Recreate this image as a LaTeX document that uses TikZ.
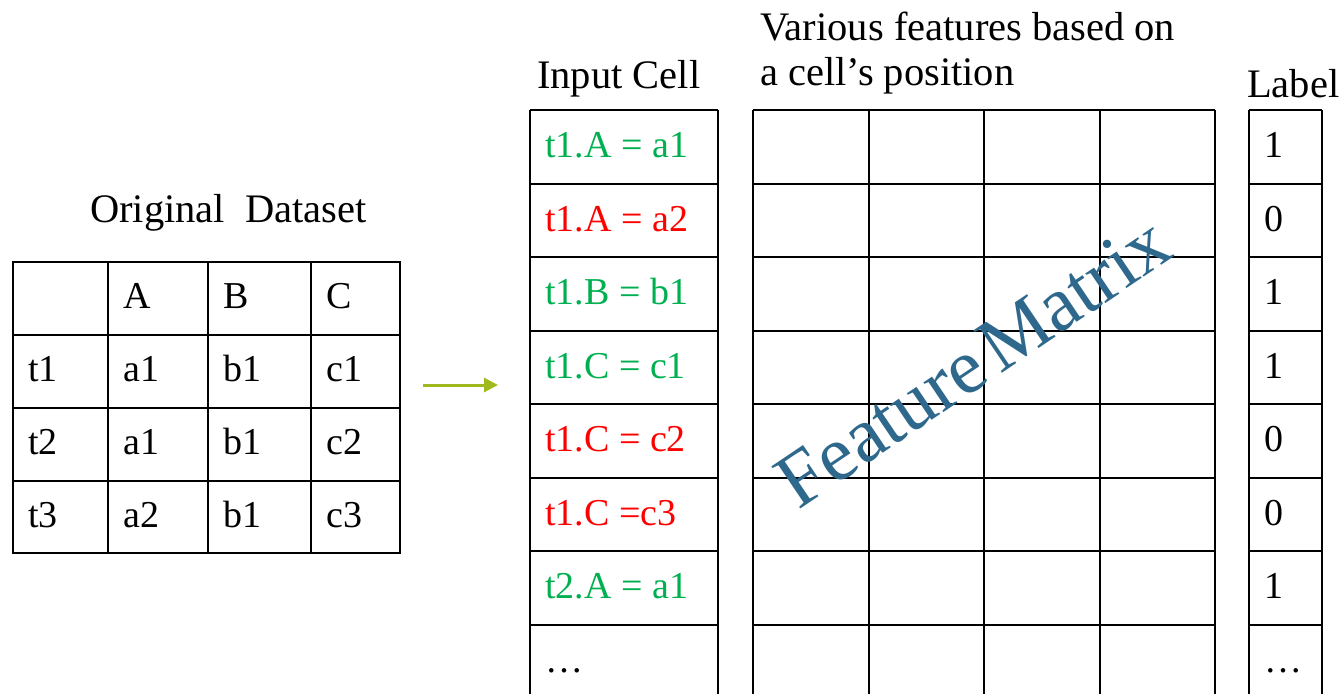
\documentclass[tikz,border=0pt]{standalone}
\usepackage{fontspec}
\setmainfont{Liberation Serif}
\usetikzlibrary{arrows.meta}
\definecolor{cgreen}{RGB}{0,176,80}
\definecolor{cred}{RGB}{255,0,0}
\definecolor{arrowc}{RGB}{160,185,30}
\definecolor{wmark}{RGB}{46,104,140}
\tikzset{
  gridline/.style={line width=2pt, black},
  celltxt/.style={anchor=base west, inner sep=0pt, font=\fontsize{38}{44}\selectfont},
  headtxt/.style={anchor=base west, inner sep=0pt, font=\fontsize{40.5}{48}\selectfont},
  flow/.style={line width=3pt, arrowc, -{Triangle[length=14pt,width=14pt]}},
  wm/.style={rotate=34, inner sep=0pt, font=\fontsize{78}{88}\selectfont}
}
\begin{document}
\begin{tikzpicture}[x=1pt,y=-1pt]
\useasboundingbox (0,0) rectangle (1341,694);

% ---------- Original dataset table ----------
\node[headtxt] (origtitle) at (90,222) {Original\ \ Dataset};
\draw[gridline] (13,262) rectangle (400,553);
\foreach \x in {108,208,311} \draw[gridline] (\x,262) -- (\x,553);
\foreach \y in {335,408,481} \draw[gridline] (13,\y) -- (400,\y);
\node[celltxt] (hA) at (123,308.5) {A};
\node[celltxt] (hB) at (223,308.5) {B};
\node[celltxt] (hC) at (326,308.5) {C};
\node[celltxt] (r1c0) at (28,381.5) {t1};
\node[celltxt] (r1c1) at (123,381.5) {a1};
\node[celltxt] (r1c2) at (223,381.5) {b1};
\node[celltxt] (r1c3) at (326,381.5) {c1};
\node[celltxt] (r2c0) at (28,454.5) {t2};
\node[celltxt] (r2c1) at (123,454.5) {a1};
\node[celltxt] (r2c2) at (223,454.5) {b1};
\node[celltxt] (r2c3) at (326,454.5) {c2};
\node[celltxt] (r3c0) at (28,527) {t3};
\node[celltxt] (r3c1) at (123,527) {a2};
\node[celltxt] (r3c2) at (223,527) {b1};
\node[celltxt] (r3c3) at (326,527) {c3};

% ---------- arrow ----------
\coordinate (arrS) at (423,385);
\coordinate (arrE) at (498,385);
\draw[flow] (arrS) -- (arrE);

% ---------- Input cell column ----------
\node[headtxt] (inputtitle) at (537,88) {Input Cell};
\draw[gridline] (530,110) -- (530,694);
\draw[gridline] (718,110) -- (718,694);
\foreach \k in {0,...,7} \draw[gridline] (530,110+73.5*\k) -- (718,110+73.5*\k);
\foreach \t/\c [count=\i from 0] in {t1.A = a1/cgreen, t1.A = a2/cred, t1.B = b1/cgreen, t1.C = c1/cgreen, t1.C = c2/cred, t1.C =c3/cred, t2.A = a1/cgreen, \dots/black}
  \node[celltxt, text=\c] (in\i) at (545,157.75+73.5*\i) {\t};

% ---------- Feature matrix ----------
\node[headtxt] (feat1) at (760,40) {Various features based on};
\node[headtxt] (feat2) at (760,85) {a cell’s position};
\foreach \x in {753,868.5,984,1099.5,1215} \draw[gridline] (\x,110) -- (\x,694);
\foreach \k in {0,...,7} \draw[gridline] (753,110+73.5*\k) -- (1215,110+73.5*\k);
\node[wm, text=wmark] (wmtext) at (973,362) {Feature\hspace{0.12em}Matrix};

% ---------- Label column ----------
\node[headtxt] (labeltitle) at (1247,97) {Label};
\draw[gridline] (1249,110) -- (1249,694);
\draw[gridline] (1322,110) -- (1322,694);
\foreach \k in {0,...,7} \draw[gridline] (1249,110+73.5*\k) -- (1322,110+73.5*\k);
\foreach \v [count=\i from 0] in {1,0,1,1,0,0,1,\dots}
  \node[celltxt] (lab\i) at (1264,157.75+73.5*\i) {\v};
\end{tikzpicture}
\end{document}
